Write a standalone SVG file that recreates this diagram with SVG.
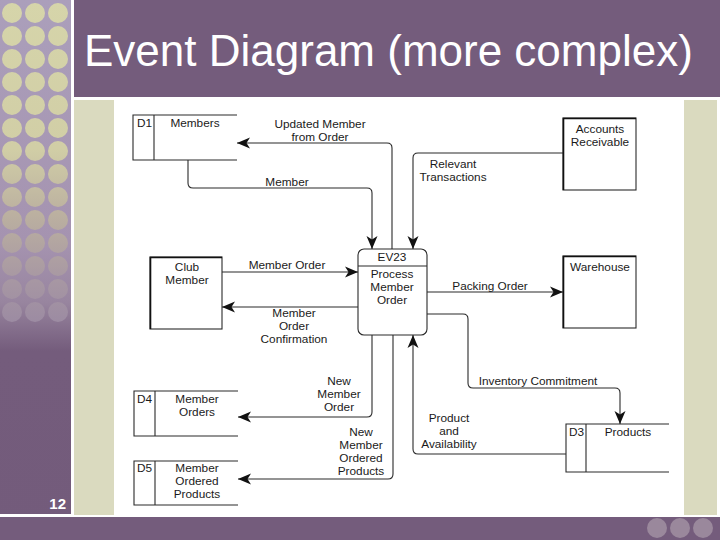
<svg xmlns="http://www.w3.org/2000/svg" width="720" height="540" viewBox="0 0 720 540">
<defs>
<linearGradient id="colbg" x1="0" y1="0" x2="0" y2="540" gradientUnits="userSpaceOnUse">
<stop offset="0" stop-color="#ab9fbb"/>
<stop offset="0.45" stop-color="#a593b0"/>
<stop offset="0.56" stop-color="#98859f"/>
<stop offset="0.65" stop-color="#745c7c"/>
<stop offset="1" stop-color="#735b7b"/>
</linearGradient>
<linearGradient id="dotg" x1="0" y1="0" x2="0" y2="330" gradientUnits="userSpaceOnUse">
<stop offset="0" stop-color="#d6d5aa"/>
<stop offset="0.45" stop-color="#d1cea6"/>
<stop offset="0.65" stop-color="#bbb0a0"/>
<stop offset="0.85" stop-color="#a797a3"/>
<stop offset="1" stop-color="#9a89a2"/>
</linearGradient>
<marker id="arr" markerUnits="userSpaceOnUse" markerWidth="14" markerHeight="12" refX="13" refY="5.5" orient="auto" overflow="visible">
<path d="M0,0 L13,5.5 L0,11 L3.5,5.5 Z" fill="#111"/>
</marker>
<g id="dotcol">
<circle cx="0" cy="13" r="10"/><circle cx="0" cy="36" r="10"/><circle cx="0" cy="59" r="10"/>
<circle cx="0" cy="82" r="10"/><circle cx="0" cy="105" r="10"/><circle cx="0" cy="128" r="10"/>
<circle cx="0" cy="151" r="10"/><circle cx="0" cy="174" r="10"/><circle cx="0" cy="197" r="10"/>
<circle cx="0" cy="220" r="10"/><circle cx="0" cy="243" r="10"/><circle cx="0" cy="266" r="10"/>
<circle cx="0" cy="289" r="10"/><circle cx="0" cy="312" r="10"/>
</g>
</defs>
<style>
.lbl{font-family:"Liberation Sans",Arial,sans-serif;font-size:11.8px;fill:#1a1a1a;text-anchor:middle}
.lft{text-anchor:start}
.ln{fill:none;stroke:#2a2a2a;stroke-width:1.1}
.flow{fill:none;stroke:#2a2a2a;stroke-width:1.1;marker-end:url(#arr)}
.box{fill:#fff;stroke:#2a2a2a;stroke-width:1.1}
.shadow{fill:none;stroke:#111;stroke-width:1.6}
</style>

<!-- slide background -->
<rect x="0" y="0" width="720" height="540" fill="#ffffff"/>
<rect x="0" y="0" width="71" height="514" fill="url(#colbg)"/>
<g fill="url(#dotg)">
<use href="#dotcol" x="12"/><use href="#dotcol" x="35"/><use href="#dotcol" x="58"/>
</g>
<rect x="74" y="0" width="646" height="97" fill="#745c7c"/>
<rect x="0" y="517" width="720" height="23" fill="#745c7c"/>
<g fill="#9a889c">
<circle cx="657" cy="528" r="10"/><circle cx="680" cy="528" r="10"/><circle cx="703" cy="528" r="10"/>
</g>
<rect x="74" y="100" width="40" height="415" fill="#dadabf"/>
<rect x="684" y="100" width="33" height="415" fill="#dadabf"/>
<text x="84" y="66" font-family="'Liberation Sans',Arial,sans-serif" font-size="44" fill="#ffffff">Event Diagram (more complex)</text>
<text x="66" y="509" font-family="'Liberation Sans',Arial,sans-serif" font-size="15" font-weight="bold" fill="#ffffff" text-anchor="end">12</text>

<!-- connectors -->
<g id="connectors">
<path class="flow" d="M392,249 V148 Q392,143 387,143 H237"/>
<path class="flow" d="M188,160 V183 Q188,188 193,188 H367 Q372,188 372,193 V249"/>
<path class="flow" d="M563,153 H418 Q413,153 413,158 V249"/>
<path class="flow" d="M222,272 H358"/>
<path class="flow" d="M358,307 H222"/>
<path class="flow" d="M427,292 H563"/>
<path class="flow" d="M372,335 V412 Q372,417 367,417 H238"/>
<path class="flow" d="M393,335 V474 Q393,479 388,479 H238"/>
<path class="flow" d="M427,314 H463 Q468,314 468,319 V383 Q468,388 473,388 H615 Q620,388 620,393 V424"/>
<path class="flow" d="M566,454 H418 Q413,454 413,449 V335"/>
<text class="lbl" x="320" y="128">Updated Member</text>
<text class="lbl" x="320" y="141">from Order</text>
<text class="lbl" x="287" y="186">Member</text>
<text class="lbl" x="453" y="168">Relevant</text>
<text class="lbl" x="453" y="181">Transactions</text>
<text class="lbl" x="287" y="269">Member Order</text>
<text class="lbl" x="294" y="317">Member</text>
<text class="lbl" x="294" y="330">Order</text>
<text class="lbl" x="294" y="343">Confirmation</text>
<text class="lbl" x="490" y="290">Packing Order</text>
<text class="lbl" x="339" y="385">New</text>
<text class="lbl" x="339" y="398">Member</text>
<text class="lbl" x="339" y="411">Order</text>
<text class="lbl" x="361" y="436">New</text>
<text class="lbl" x="361" y="449">Member</text>
<text class="lbl" x="361" y="462">Ordered</text>
<text class="lbl" x="361" y="475">Products</text>
<text class="lbl" x="538" y="385">Inventory Commitment</text>
<text class="lbl" x="449" y="422">Product</text>
<text class="lbl" x="449" y="435">and</text>
<text class="lbl" x="449" y="448">Availability</text>
</g>

<!-- nodes -->
<g id="d1-members">
<path class="ln" d="M237,115 H133 V160 H237 M154,115 V160"/>
<text class="lbl lft" x="137" y="127">D1</text>
<text class="lbl" x="195" y="127">Members</text>
</g>
<g id="ev23">
<rect class="box" x="358" y="249" width="69" height="86" rx="6"/>
<path class="ln" d="M358,266 H427"/>
<text class="lbl" x="392" y="261">EV23</text>
<text class="lbl" x="392" y="278">Process</text>
<text class="lbl" x="392" y="291">Member</text>
<text class="lbl" x="392" y="304">Order</text>
</g>
<g id="accounts-receivable">
<rect class="box" x="563" y="118" width="73" height="72"/>
<path class="shadow" d="M563.5,190 V118.5 H636"/>
<text class="lbl" x="600" y="133">Accounts</text>
<text class="lbl" x="600" y="146">Receivable</text>
</g>
<g id="warehouse">
<rect class="box" x="563" y="256" width="73" height="72"/>
<path class="shadow" d="M563.5,328 V256.5 H636"/>
<text class="lbl" x="600" y="271">Warehouse</text>
</g>
<g id="club-member">
<rect class="box" x="150" y="257" width="72" height="72"/>
<path class="shadow" d="M150.5,329 V257.5 H222"/>
<text class="lbl" x="187" y="271">Club</text>
<text class="lbl" x="187" y="284">Member</text>
</g>
<g id="d4-member-orders">
<path class="ln" d="M238,391 H134 V436 H238 M155,391 V436"/>
<text class="lbl lft" x="137" y="403">D4</text>
<text class="lbl" x="197" y="403">Member</text>
<text class="lbl" x="197" y="416">Orders</text>
</g>
<g id="d5-member-ordered-products">
<path class="ln" d="M238,461 H134 V505 H238 M155,461 V505"/>
<text class="lbl lft" x="137" y="472">D5</text>
<text class="lbl" x="197" y="472">Member</text>
<text class="lbl" x="197" y="485">Ordered</text>
<text class="lbl" x="197" y="498">Products</text>
</g>
<g id="d3-products">
<path class="ln" d="M669,424 H566 V472 H669 M586,424 V472"/>
<text class="lbl lft" x="569" y="436">D3</text>
<text class="lbl" x="628" y="436">Products</text>
</g>
</svg>
